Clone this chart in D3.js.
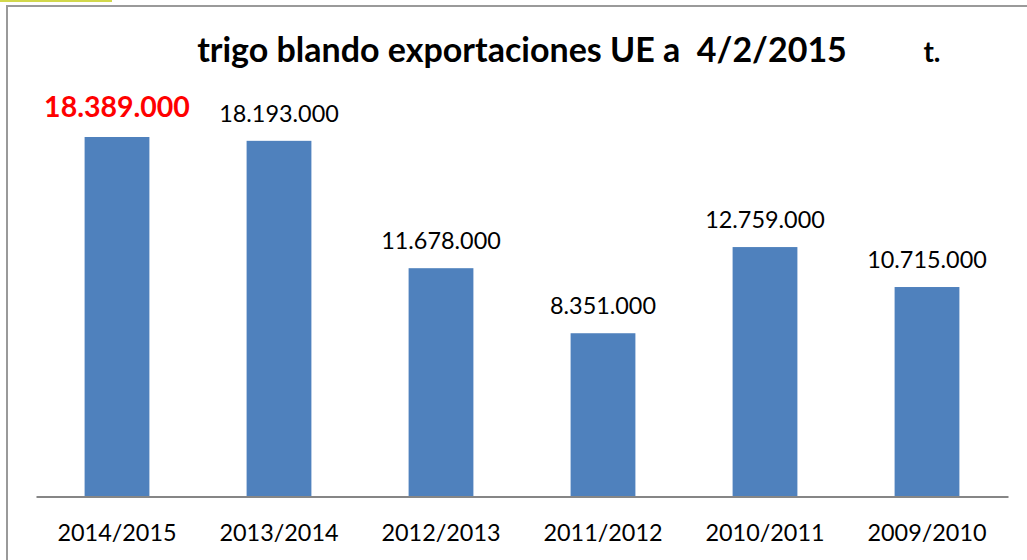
<!DOCTYPE html>
<html lang="en">
<head>
<meta charset="UTF-8">
<title>trigo blando exportaciones UE</title>
<script src="https://cdnjs.cloudflare.com/ajax/libs/d3/7.8.5/d3.min.js"></script>
<style>
  body { margin: 0; background: #fff; }
  svg { display: block; font-family: Lato, "Open Sans", sans-serif; }
</style>
</head>
<body>
<svg id="chart" width="1027" height="560"></svg>
<script>
  const campaigns = ['2014/2015', '2013/2014', '2012/2013', '2011/2012', '2010/2011', '2009/2010'];
  const exportsT = [18389000, 18193000, 11678000, 8351000, 12759000, 10715000];
  const valueLabels = ['18.389.000', '18.193.000', '11.678.000', '8.351.000', '12.759.000', '10.715.000'];

  const svg = d3.select('#chart');

  // little yellow mark top-left + chart frame
  svg.append('rect').attr('x', 0).attr('y', 0).attr('width', 112).attr('height', 2).attr('fill', '#d2d84c');
  svg.append('rect')
    .attr('x', 7).attr('y', 6).attr('width', 1030).attr('height', 570)
    .attr('fill', 'none').attr('stroke', '#9a9a9a').attr('stroke-width', 2);

  const x = d3.scaleBand()
    .domain(campaigns)
    .range([36, 1008])
    .paddingInner(0.6)
    .paddingOuter(0.3);

  const y = d3.scaleLinear()
    .domain([0, 20000000])
    .range([496.5, 105.5]);

  svg.selectAll('rect.bar')
    .data(exportsT)
    .enter()
    .append('rect')
    .attr('class', 'bar')
    .attr('x', (d, i) => x(campaigns[i]))
    .attr('width', x.bandwidth())
    .attr('y', d => y(d))
    .attr('height', d => y(0) - y(d))
    .attr('fill', '#4f81bd');

  // baseline
  const axis = svg.append('g')
    .attr('transform', `translate(0,${y(0)})`)
    .call(d3.axisBottom(x).tickSize(0).tickPadding(28));
  axis.select('.domain').attr('stroke', '#868686').attr('stroke-width', 2);
  axis.selectAll('text')
    .attr('font-family', 'Lato, "Open Sans", sans-serif')
    .attr('font-size', 23.4)
    .attr('fill', '#000');

  // value labels
  svg.selectAll('text.val')
    .data(exportsT)
    .enter()
    .append('text')
    .attr('class', 'val')
    .attr('x', (d, i) => x(campaigns[i]) + x.bandwidth() / 2)
    .attr('y', (d, i) => i === 0 ? y(d) - 20 : y(d) - 19)
    .attr('text-anchor', 'middle')
    .attr('font-size', (d, i) => i === 0 ? 28.5 : 23.4)
    .attr('font-weight', (d, i) => i === 0 ? 'bold' : 'normal')
    .attr('fill', (d, i) => i === 0 ? '#ff0000' : '#000')
    .text((d, i) => valueLabels[i]);

  svg.append('text')
    .attr('x', 522).attr('y', 62)
    .attr('text-anchor', 'middle')
    .attr('font-size', 34)
    .attr('font-weight', 'bold')
    .attr('xml:space', 'preserve')
    .style('white-space', 'pre')
    .text('trigo blando exportaciones UE a  4/2/2015');

  svg.append('text')
    .attr('x', 932).attr('y', 62)
    .attr('text-anchor', 'middle')
    .attr('font-size', 28)
    .attr('font-weight', 'bold')
    .text('t.');
</script>
</body>
</html>
